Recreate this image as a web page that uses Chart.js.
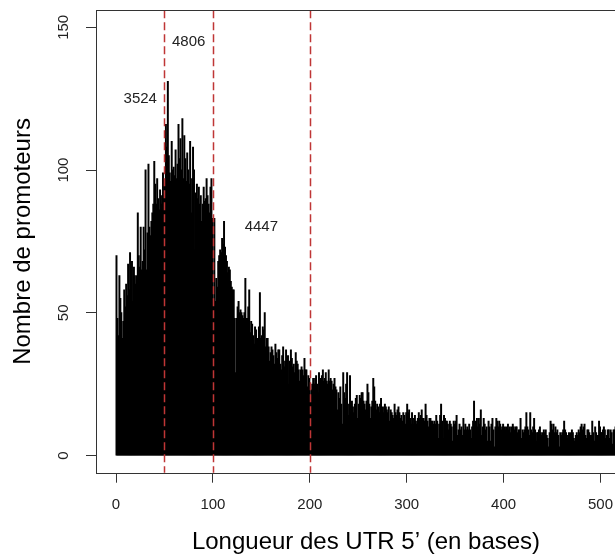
<!DOCTYPE html>
<html>
<head>
<meta charset="utf-8">
<script src="https://cdn.jsdelivr.net/npm/chart.js@4.4.1/dist/chart.umd.min.js"></script>
<style>
  html, body { margin: 0; padding: 0; overflow: hidden; background: #fff; }
</style>
</head>
<body>
<canvas id="chart" width="640" height="557"></canvas>
<script>
// promoters per 5' UTR length (one bin per base, 0..515)
const counts = [
  70,48,42,63,55,50,41,47,58,52,
  60,56,67,58,71,62,68,54,66,63,
  60,63,85,70,66,80,65,68,80,72,
  100,65,78,102,80,77,82,85,88,103,
  95,88,97,90,86,93,88,91,99,90,
  95,116,108,131,105,99,96,110,100,101,
  98,107,97,102,116,104,111,100,118,97,
  112,104,96,106,100,95,110,85,97,108,
  100,72,92,95,90,94,88,91,82,88,
  94,89,90,97,91,88,85,94,97,83,
  54,83,54,62,59,68,70,72,71,76,
  74,82,73,70,68,64,66,65,61,59,
  58,58,48,29,48,52,54,50,51,50,
  49,48,50,62,48,48,52,58,43,47,
  46,42,39,45,44,40,41,45,57,41,
  42,45,44,50,38,41,41,38,33,36,
  38,37,35,32,39,36,34,37,37,32,
  30,35,38,31,33,37,34,35,25,33,
  37,34,31,32,29,36,33,32,30,26,
  30,31,30,28,34,30,30,24,28,27,
  20,23,25,27,25,27,28,25,22,29,
  26,27,28,30,26,27,29,26,25,30,
  26,27,26,23,25,27,24,23,16,22,
  20,24,18,11,29,22,20,25,29,14,
  18,28,15,19,17,15,18,20,21,13,
  18,21,20,22,22,19,18,16,19,25,
  22,18,13,17,19,27,24,19,16,18,
  17,15,18,20,15,17,15,18,17,16,
  15,17,12,16,15,14,13,18,15,14,
  16,17,15,13,14,12,15,14,11,15,
  18,15,16,13,11,15,13,11,14,12,
  11,13,15,13,14,16,13,13,12,18,
  14,12,10,13,13,12,12,11,12,11,
  14,12,6,11,14,18,12,6,14,13,
  12,12,11,9,12,11,10,5,12,11,
  12,14,7,9,11,9,10,7,13,9,
  11,9,10,9,11,9,6,10,12,19,
  11,12,13,10,13,11,16,7,10,13,
  11,9,10,5,12,10,5,11,13,9,
  3,10,13,12,10,12,11,9,10,11,
  10,9,10,6,11,9,10,8,10,11,
  10,9,10,10,8,9,9,13,6,9,
  8,9,10,15,10,9,7,15,9,8,
  10,13,9,5,8,8,9,10,8,7,
  8,9,8,9,7,6,3,8,12,11,
  9,11,8,10,8,9,7,3,8,7,
  8,9,12,9,8,6,7,8,7,8,
  9,8,6,5,7,8,7,9,8,10,
  11,9,10,11,7,6,9,9,8,7,
  7,12,8,5,10,8,7,7,12,10,
  8,8,9,10,9,6,7,9,9,6,
  9,8,4,9,9,10
];
const lengths = counts.map((c, i) => i);   // bin start, in bases

const cutoffs = [50, 100, 200];
const regionTotals = ['3524', '4806', '4447'];
const xTicks = [0, 100, 200, 300, 400, 500];
const yTicks = [0, 50, 100, 150];

const tickFont = '15px "Liberation Sans", Arial, sans-serif';

// frame, red cut-off lines, totals and rotated y labels, like the R plot
const decorations = {
  id: 'decorations',
  afterDatasetsDraw(chart) {
    const {ctx, chartArea: a, scales: {x, y}} = chart;
    ctx.save();

    ctx.strokeStyle = '#bf3636';
    ctx.lineWidth = 1.5;
    ctx.setLineDash([8, 4]);
    cutoffs.forEach(c => {
      const px = Math.round(x.getPixelForValue(c)) + 0.5;
      ctx.beginPath();
      ctx.moveTo(px, a.top);
      ctx.lineTo(px, a.bottom);
      ctx.stroke();
    });
    ctx.setLineDash([]);

    ctx.strokeStyle = '#333';
    ctx.lineWidth = 1;
    ctx.strokeRect(Math.round(a.left) + 0.5, Math.round(a.top) + 0.5,
                   Math.round(a.right - a.left), Math.round(a.bottom - a.top));

    ctx.fillStyle = '#222';
    ctx.font = tickFont;
    ctx.textAlign = 'center';
    ctx.textBaseline = 'middle';
    const anchors = [[25, 125], [75, 145], [150, 80]];
    regionTotals.forEach((t, i) => {
      ctx.fillText(t, x.getPixelForValue(anchors[i][0]), y.getPixelForValue(anchors[i][1]));
    });

    yTicks.forEach(v => {
      ctx.save();
      ctx.translate(64, y.getPixelForValue(v));
      ctx.rotate(-Math.PI / 2);
      ctx.fillText(String(v), 0, 0);
      ctx.restore();
    });
    ctx.restore();
  }
};

new Chart(document.getElementById('chart'), {
  type: 'bar',
  data: {
    datasets: [{
      data: lengths.map((l, i) => ({x: l + 0.5, y: counts[i]})),
      backgroundColor: '#000',
      borderWidth: 0,
      barPercentage: 1,
      categoryPercentage: 1,
      inflateAmount: 0.5
    }]
  },
  options: {
    responsive: false,
    animation: false,
    devicePixelRatio: 1,
    layout: {padding: {left: 0, top: 10, right: 4, bottom: 0}},
    plugins: {legend: {display: false}, tooltip: {enabled: false}},
    scales: {
      x: {
        type: 'linear',
        offset: false,
        min: -20.64,
        max: 536.64,
        afterBuildTicks: s => { s.ticks = xTicks.map(v => ({value: v})); },
        afterFit: s => { s.height = 84.3; },
        border: {display: false},
        grid: {offset: false, drawOnChartArea: false, drawTicks: true, tickLength: 10, color: '#333'},
        ticks: {font: {family: '"Liberation Sans", Arial, sans-serif', size: 15}, color: '#222', padding: 13, maxRotation: 0, autoSkip: false},
        title: {display: true, text: 'Longueur des UTR 5\u2019 (en bases)', color: '#000',
                font: {family: '"Liberation Sans", Arial, sans-serif', size: 24}, padding: {top: 0, bottom: 0}}
      },
      y: {
        min: -6,
        max: 156,
        afterBuildTicks: s => { s.ticks = yTicks.map(v => ({value: v})); },
        afterFit: s => { s.width = 96; },
        border: {display: false},
        grid: {drawOnChartArea: false, drawTicks: true, tickLength: 10, color: '#333'},
        ticks: {color: 'rgba(0,0,0,0)'},
        title: {display: true, text: 'Nombre de promoteurs', color: '#000',
                font: {family: '"Liberation Sans", Arial, sans-serif', size: 24}, padding: {top: 9, bottom: 0}}
      }
    }
  },
  plugins: [decorations]
});
</script>
</body>
</html>
